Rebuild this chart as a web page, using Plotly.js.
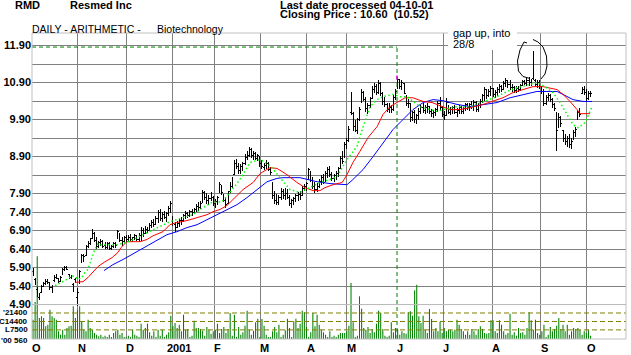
<!DOCTYPE html>
<html><head><meta charset="utf-8">
<script src="https://cdn.plot.ly/plotly-3.0.1.min.js"></script>
<style>html,body{margin:0;padding:0;background:#fff;}#chart{width:631px;height:355px;}
#chart .ohlclayer path{shape-rendering:crispEdges;}</style>
</head><body><div id="chart"></div>
<script>
// ---- daily bars (one per weekday slot, Oct 2 2000 .. Oct 4 2001) ----
const open = [
5.80,5.58,5.30,5.10,5.22, 5.40,5.46,5.52,5.48,5.36, 5.55,5.62,5.60,5.52,5.72, 5.86,5.88,5.70,5.62,5.44,
5.58,5.10,5.50,6.05,6.10, 6.22,6.46,6.56,6.68,6.82, 6.62,6.48,6.56,6.60,6.50, 6.44,6.54,6.42,6.46,6.52,
6.70,6.80,6.62,6.60,6.70, 6.66,6.72,6.66,6.68,6.74, 6.66,6.78,6.90,6.82,6.94, 6.92,7.02,7.10,7.08,7.22,
7.38,7.22,7.34,7.28,7.36, 7.48,7.26,7.06,6.98,7.08, 7.18,7.16,7.28,7.34,7.32, 7.42,7.38,7.46,7.56,7.52,
7.66,7.92,7.80,7.70,7.76, 7.80,7.62,7.68,7.94,8.10, 7.88,7.70,7.64,7.96,8.10, 8.42,8.72,8.60,8.50,8.62,
8.70,8.88,8.94,9.08,8.94, 8.98,8.86,8.90,8.70,8.60, 8.66,8.72,8.56,8.16,7.84, 7.70,7.66,7.80,7.96,7.84,
7.90,7.80,7.62,7.70,7.74, 7.84,7.88,7.84,8.04,8.10, 8.30,8.50,8.26,8.10,8.00, 8.10,8.22,8.34,8.22,8.44,
8.54,8.42,8.30,8.38,8.44, 8.58,8.84,8.90,9.20,9.36, 10.10,10.06,9.72,9.60,9.90, 10.40,10.60,10.44,10.20,10.28,
10.48,10.72,10.80,10.62,10.86, 10.58,10.40,10.30,10.18,10.22, 10.16,10.50,10.76,10.96,10.78, 10.88,10.60,10.34,10.34,9.96,
10.08,9.90,10.00,10.12,10.24, 10.14,10.22,10.26,10.12,10.04, 10.10,10.16,10.34,10.22,10.04, 10.00,10.36,10.10,10.16,10.22,
10.10,10.14,10.24,10.12,10.20, 10.30,10.22,10.30,10.26,10.36, 10.18,10.28,10.40,10.54,10.70, 10.56,10.66,10.74,10.58,10.62,
10.72,10.80,10.72,10.88,10.94, 10.84,10.76,10.78,10.68,10.74, 10.70,10.82,10.90,10.88,10.96, 10.90,11.00,10.96,10.86,10.88,
10.76,10.66,10.34,10.50,10.54, 10.44,10.30,10.06,9.70,9.90, 9.60,9.40,9.30,9.40,9.24, 9.36,9.56,9.92,10.10,10.60,
10.70,10.62,10.46,10.56
];
const high = [
5.88,5.62,5.38,5.22,5.42, 5.52,5.58,5.60,5.50,5.42, 5.70,5.72,5.62,5.66,5.90, 5.95,5.94,5.74,5.70,5.48,
5.62,5.36,5.84,6.26,6.26, 6.52,6.62,6.70,6.95,6.86, 6.72,6.62,6.66,6.64,6.58, 6.60,6.58,6.52,6.58,6.60,
6.92,6.84,6.72,6.76,6.78, 6.78,6.80,6.74,6.80,6.78, 6.84,7.00,6.96,7.02,7.00, 7.10,7.18,7.22,7.30,7.46,
7.48,7.40,7.42,7.40,7.56, 7.70,7.30,7.14,7.16,7.24, 7.26,7.36,7.42,7.40,7.46, 7.48,7.52,7.62,7.66,7.70,
8.00,7.98,7.92,7.86,7.94, 7.84,7.76,7.84,8.20,8.14, 7.90,7.78,7.96,8.20,8.36, 8.82,8.84,8.74,8.70,8.76,
8.96,9.04,9.16,9.12,9.06, 9.02,8.98,8.92,8.80,8.72, 8.80,8.76,8.62,8.20,7.96, 7.90,7.86,8.06,8.02,8.04,
8.02,7.86,7.76,7.82,7.90, 7.94,7.96,8.10,8.16,8.22, 8.60,8.52,8.34,8.20,8.18, 8.30,8.40,8.42,8.50,8.62,
8.64,8.48,8.44,8.50,8.62, 8.92,9.04,9.30,9.40,9.72, 10.64,10.10,9.90,9.94,10.24, 10.72,10.66,10.50,10.36,10.52,
10.80,10.90,10.86,10.96,10.92, 10.64,10.50,10.36,10.34,10.30, 10.56,10.72,11.04,11.00,10.96, 10.90,10.56,10.46,10.36,10.14,
10.16,10.06,10.20,10.30,10.34, 10.30,10.34,10.28,10.18,10.16, 10.22,10.40,10.50,10.26,10.14, 10.48,10.30,10.24,10.28,10.30,
10.20,10.30,10.28,10.24,10.36, 10.36,10.34,10.40,10.44,10.40, 10.34,10.46,10.60,10.78,10.74, 10.72,10.80,10.76,10.70,10.78,
10.86,10.84,10.94,11.02,10.98, 10.96,10.86,10.82,10.80,10.82, 10.86,10.96,10.98,11.02,11.04, 11.00,11.76,11.00,10.98,10.96,
10.80,10.72,10.56,10.62,10.60, 10.48,10.36,10.10,10.08,10.00, 9.62,9.50,9.46,9.50,9.40, 9.62,9.70,10.16,10.22,10.78,
10.80,10.74,10.66,10.68
];
const low = [
5.66,5.42,5.10,5.02,5.20, 5.38,5.44,5.46,5.30,5.22, 5.52,5.58,5.48,5.50,5.70, 5.82,5.84,5.60,5.58,5.24,
5.48,4.86,5.46,6.02,6.04, 6.20,6.42,6.50,6.66,6.60, 6.40,6.44,6.48,6.42,6.40, 6.40,6.38,6.38,6.42,6.44,
6.66,6.58,6.48,6.56,6.60, 6.60,6.62,6.58,6.64,6.62, 6.60,6.62,6.74,6.80,6.84, 6.90,6.96,7.00,7.04,7.10,
7.16,7.14,7.20,7.14,7.30, 7.38,7.02,6.86,6.96,7.00, 7.04,7.14,7.22,7.24,7.28, 7.30,7.34,7.40,7.44,7.48,
7.64,7.72,7.62,7.60,7.70, 7.56,7.52,7.60,7.92,7.86, 7.66,7.50,7.62,7.92,8.04, 8.40,8.56,8.44,8.42,8.52,
8.66,8.80,8.88,8.86,8.82, 8.80,8.78,8.62,8.56,8.54, 8.56,8.52,8.40,7.76,7.62, 7.60,7.58,7.74,7.76,7.74,
7.76,7.56,7.52,7.58,7.66, 7.70,7.72,7.84,7.96,7.98, 8.26,8.20,8.02,7.92,7.94, 8.04,8.12,8.16,8.20,8.32,
8.36,8.24,8.22,8.26,8.34, 8.56,8.70,8.86,9.10,9.30, 10.02,9.60,9.56,9.52,9.86, 10.34,10.40,10.10,10.06,10.22,
10.46,10.62,10.56,10.60,10.54, 10.30,10.24,10.10,10.08,10.08, 10.14,10.44,10.74,10.72,10.70, 10.60,10.26,10.22,9.84,9.86,
9.80,9.78,9.90,10.04,10.08, 10.04,10.08,10.04,9.96,9.94, 10.00,10.10,10.16,9.96,9.90, 10.00,10.04,10.02,10.06,10.04,
9.98,10.04,10.06,10.04,10.12, 10.16,10.14,10.18,10.12,10.10, 10.10,10.22,10.34,10.40,10.46, 10.50,10.54,10.50,10.48,10.54,
10.62,10.64,10.70,10.78,10.76, 10.70,10.64,10.62,10.62,10.64, 10.66,10.80,10.84,10.80,10.82, 10.80,10.96,10.80,10.76,10.74,
10.60,10.26,10.30,10.40,10.38, 10.20,10.12,9.04,9.66,9.70, 9.30,9.22,9.16,9.14,9.10, 9.34,9.44,9.90,9.96,10.58,
10.56,10.40,10.42,10.52
];
const close = [
5.70,5.46,5.15,5.18,5.38, 5.48,5.52,5.50,5.36,5.30, 5.66,5.66,5.52,5.62,5.86, 5.90,5.86,5.64,5.66,5.30,
5.52,5.22,5.80,6.22,6.20, 6.48,6.56,6.66,6.86,6.64, 6.46,6.58,6.60,6.48,6.44, 6.56,6.42,6.48,6.54,6.50,
6.88,6.64,6.60,6.70,6.66, 6.72,6.66,6.70,6.76,6.66, 6.80,6.92,6.80,6.96,6.90, 7.04,7.12,7.06,7.24,7.40,
7.22,7.34,7.26,7.36,7.50, 7.62,7.08,6.94,7.10,7.20, 7.12,7.30,7.36,7.30,7.42, 7.36,7.48,7.58,7.50,7.64,
7.94,7.80,7.70,7.78,7.86, 7.62,7.70,7.80,8.14,7.92, 7.72,7.60,7.92,8.12,8.30, 8.74,8.62,8.52,8.64,8.70,
8.90,8.96,9.10,8.94,8.98, 8.86,8.92,8.70,8.62,8.66, 8.74,8.58,8.46,7.84,7.70, 7.66,7.80,7.98,7.84,7.90,
7.80,7.62,7.70,7.76,7.84, 7.88,7.82,8.06,8.10,8.16, 8.54,8.26,8.10,8.00,8.12, 8.24,8.34,8.20,8.44,8.56,
8.42,8.30,8.40,8.44,8.56, 8.86,8.76,9.24,9.34,9.62, 10.56,9.72,9.64,9.86,10.18, 10.64,10.44,10.20,10.28,10.46,
10.74,10.80,10.62,10.88,10.60, 10.40,10.30,10.16,10.22,10.14, 10.50,10.66,10.98,10.80,10.90, 10.66,10.34,10.40,9.96,10.08,
9.90,10.00,10.12,10.24,10.14, 10.22,10.26,10.12,10.06,10.10, 10.16,10.34,10.22,10.04,9.98, 10.40,10.10,10.18,10.22,10.10,
10.14,10.24,10.12,10.20,10.30, 10.22,10.30,10.26,10.36,10.18, 10.28,10.40,10.56,10.70,10.56, 10.66,10.74,10.58,10.64,10.72,
10.80,10.70,10.88,10.96,10.84, 10.74,10.80,10.68,10.74,10.70, 10.82,10.92,10.88,10.96,10.90, 10.86,11.40,10.86,10.90,10.80,
10.66,10.34,10.50,10.56,10.44, 10.30,10.20,9.60,9.96,9.80, 9.40,9.30,9.38,9.22,9.30, 9.56,9.62,10.10,10.04,10.72,
10.62,10.46,10.60,10.60
];
const volume = [
15900,30500,68100,17300,18700,17300,10500,11800,24100,18700,
17300,15900,6300,3500,7700,3500,9100,10500,10900,26900,
17300,24100,26900,14600,7700,6300,15900,9100,7700,4900,
3500,2200,3500,1600,2700,1600,3500,1600,4900,6300,
7700,3500,4900,1600,1600,2700,1600,7700,3500,2700,
1600,12600,7700,9100,12600,5500,2700,6300,1600,7700,
2700,7700,1600,3500,5500,19200,10500,13200,9100,11800,
6300,20000,7700,8200,
1600,2700,15100,9100,9100,8200,6800,2700,9900,7700,
4400,6300,7700,12600,4900,8200,9900,4900,8200,21400,
2700,20000,1600,9900,3500,5500,10900,23300,7700,3500,
6800,13700,16700,1600,16500,10900,3500,1600,1600,6300,
9900,5500,11800,1600,3500,7200,16700,9100,1600,14600,
16700,9100,12600,23300,22000,9900,1600,5500,21400,10500,
20000,11800,7700,5500,3500,1600,6300,1600,2700,1600,
3500,
4900,4900,4900,6300,10900,46100,13700,1600,2700,35100,
24900,9100,7700,9900,4900,8200,5500,12600,23300,21400,
8200,2700,1600,2700,13700,5500,9100,8200,3500,6300,
4900,4400,22000,22800,19200,40100,44700,18700,13200,19200,
7700,4900,24700,16500,6300,9100,6300,14200,4900,9100,
6300,7700,7700,6300,7700,15900,11800,8200,6300,3500,
6300,3500,8200,6300,3500,8200,10500,8200,4900,4400,
4900,15400,15400,6300,4900,15400,11800,6300,3500,4900,
20800,3500,5500,2700,9100,4900,5500,3500,9100,22000,
15400,7700,15900,4900,3500,6300,11800,1600,3500,9900,
6300,8200,10900,17300,8200,11800,6300,11800,3500,6300,
9100,8200,9100,7700,3500,6300,4900,7700,2700
];
// ---- moving averages (slot, price) ----
const redMaX = [19.8,23.6,25.9,28.3,30.7,34.0,37.3,40.1,41.5,44.3,50.5,53.8,56.6,61.3,64.6,67.9,72.6,77.4,82.1,84.9,88.2,91.5,94.3,99.1,103.8,107.1,111.8,115.1,119.8,124.5,128.3,132.1,135.4,137.7,141.5,145.8,148.1,150.9,154.2,158.0,162.3,165.1,168.4,172.2,175.5,179.2,184.0,188.2,192.0,196.7,201.4,206.1,212.3,217.0,221.7,226.4,231.1,235.8,240.6,243.9,247.2,250.0,253.3,256.6,258.0,262.7];
const redMaY = [5.50,5.52,5.63,5.77,5.93,6.06,6.17,6.31,6.44,6.60,6.60,6.66,6.76,6.87,7.06,7.12,7.17,7.25,7.33,7.41,7.47,7.58,7.74,8.01,8.20,8.44,8.60,8.58,8.41,8.20,8.06,7.98,7.98,8.06,8.14,8.20,8.41,8.74,9.04,9.41,9.71,10.04,10.25,10.39,10.49,10.49,10.39,10.36,10.28,10.17,10.17,10.22,10.31,10.39,10.49,10.63,10.71,10.79,10.79,10.76,10.71,10.58,10.39,10.17,10.06,10.06];
const blueMaX = [33.5,37.7,42.5,49.1,53.8,58.5,63.2,67.9,72.6,77.4,82.1,86.8,91.5,96.2,100.9,105.7,110.4,115.1,117.9,125.9,134.0,140.1,148.1,150.9,155.7,160.4,165.1,169.8,174.5,179.2,184.0,188.7,193.4,200.0,206.1,212.3,218.9,225.0,231.1,237.7,243.9,247.2,250.0,254.7,259.4,263.7];
const blueMaY = [5.82,5.98,6.12,6.33,6.47,6.64,6.79,6.87,6.98,7.06,7.20,7.33,7.47,7.60,7.79,8.01,8.22,8.31,8.33,8.33,8.22,8.17,8.14,8.28,8.55,8.90,9.28,9.63,9.90,10.17,10.36,10.44,10.41,10.31,10.25,10.31,10.36,10.49,10.58,10.66,10.66,10.66,10.58,10.44,10.39,10.39];
const greenMaX = [10.4,13.7,16.0,18.4,19.8,21.2,23.1,24.5,25.9,27.8,29.2,30.7,31.6,34.9,39.6,44.3,47.2,51.9,56.6,61.3,64.6,67.9,70.8,75.5,80.2,84.4,89.2,92.9,97.6,102.4,107.1,111.8,116.5,121.2,125.9,130.7,135.4,140.1,143.4,148.1,152.8,155.7,159.0,162.3,165.1,169.8,173.1,176.4,179.2,182.5,187.3,190.6,193.4,200.0,206.1,212.3,218.9,223.6,228.3,234.4,237.7,241.5,245.3,248.6,251.9,254.7,257.1,260.4,263.7];
const greenMaY = [5.41,5.50,5.58,5.68,5.66,5.58,5.63,5.77,5.85,6.17,6.39,6.55,6.52,6.52,6.52,6.58,6.66,6.79,6.93,7.06,7.14,7.20,7.25,7.33,7.52,7.66,7.68,7.93,8.28,8.74,8.82,8.66,8.33,8.01,7.93,8.06,8.20,8.28,8.36,8.82,9.17,9.71,10.25,10.44,10.52,10.58,10.52,10.52,10.39,10.25,10.17,10.12,10.17,10.25,10.25,10.39,10.52,10.66,10.76,10.85,10.90,10.79,10.63,10.36,10.04,9.76,9.68,9.82,10.25];
// ---- axes / labels ----
const priceTicks = [4.9,5.4,5.9,6.4,6.9,7.4,7.9,8.4,8.9,9.4,9.9,10.4,10.9,11.4,11.9];
const priceTickText = ['4.90','5.40','5.90','6.40','6.90','7.40','7.90','','8.90','','9.90','','10.90','','11.90'];
const monthPos = [-0.47,21.2,43.9,66.0,85.4,107.1,129.2,148.1,171.7,193.4,216.5,239.6,261.3];
const monthText = ['O','N','D','2001','F','M','A','M','J','J','A','S','O'];
const volLevels = [21400,14400,7500,0];
const volLabels = ["'21400","C14400","L7500","'00 560"];
const highMark = 11.86;
const highMarkDay = 171.7;

const day = open.map((_, i) => i);
const FONT = 'Liberation Sans, Arial, sans-serif';
const L = 32, R = 626, T = 33, B = 339;
const PX = (px) => (px - L) / (R - L);
const PY = (py) => (B - py) / (B - T);
const priceRange = [3.97, 12.24];
const dayRange = [-0.47, 279.7];

const traces = [
  {type:'bar', x:day, y:volume, xaxis:'x', yaxis:'y', width:0.5,
   marker:{color:'#008000', line:{width:0}}, hoverinfo:'skip', showlegend:false},
  {type:'ohlc', x:day, open:open, high:high, low:low, close:close, xaxis:'x', yaxis:'y2',
   tickwidth:0.5, increasing:{line:{color:'#000', width:1}}, decreasing:{line:{color:'#000', width:1}},
   showlegend:false},
  {type:'scatter', mode:'lines', x:blueMaX, y:blueMaY, yaxis:'y2', line:{color:'#0000ff', width:1}, hoverinfo:'skip', showlegend:false},
  {type:'scatter', mode:'lines', x:redMaX, y:redMaY, yaxis:'y2', line:{color:'#ff0000', width:1}, hoverinfo:'skip', showlegend:false},
  {type:'scatter', mode:'lines', x:greenMaX, y:greenMaY, yaxis:'y2', line:{color:'#00ff00', width:1.5, dash:'1.5px,2.5px'}, hoverinfo:'skip', showlegend:false}
];

const ann = [];
function txt(text, px, py, size, bold) {
  ann.push({xref:'paper', yref:'paper', x:PX(px - 2), y:PY(py), xanchor:'left', yanchor:'middle',
    text:text, showarrow:false, font:{family:FONT, size:size, color:'#000', weight: bold ? 'bold' : 'normal'}});
}
txt('RMD', 15, 4.5, 11, true);
txt('Resmed Inc', 70, 4.5, 11, true);
txt('Last date processed 04-10-01', 280, 4.5, 11, true);
txt('Closing Price : 10.60\u00a0\u00a0(10.52)', 280, 14.5, 11, true);
txt('DAILY - ARITHMETIC -', 32, 29, 10.5, false);
txt('Biotechnology', 157, 29, 10.5, false);
txt('gap up, into', 453, 33, 11, false);
txt('28/8', 453, 44.5, 11, false);

monthPos.forEach((p, i) => {
  ann.push({xref:'x', yref:'paper', x:p, y:0, xanchor:'left', yanchor:'top', yshift:-1,
    xshift: monthText[i] === '2001' ? -8 : -2,
    text:monthText[i], showarrow:false, font:{family:FONT, size:11, color:'#000', weight:'bold'}});
});
volLevels.forEach((v, i) => {
  ann.push({xref:'paper', yref:'y', x:0, y:v, xanchor:'right', yanchor:'middle', xshift:-2, yshift: v === 0 ? -1 : 0,
    text:volLabels[i], showarrow:false, font:{family:FONT, size:8, color:'#000', weight:'bold'}});
});

const shapes = [];
// olive volume reference lines
volLevels.filter(v => v > 0).forEach(v => shapes.push({type:'line', xref:'x', yref:'y', x0:dayRange[0], x1:dayRange[1], y0:v, y1:v,
  line:{color:'#808000', width:1, dash:'5px,3px'}, layer:'above'}));
// light separator at 4.90
shapes.push({type:'line', xref:'x', yref:'y2', x0:dayRange[0], x1:dayRange[1], y0:4.9, y1:4.9, line:{color:'#c0c0c0', width:1}, layer:'above'});
// green high marker
shapes.push({type:'line', xref:'x', yref:'y2', x0:dayRange[0], x1:highMarkDay, y0:highMark, y1:highMark,
  line:{color:'#008000', width:1, dash:'4px,3px'}, layer:'above'});
shapes.push({type:'line', xref:'x', yref:'y2', x0:highMarkDay, x1:highMarkDay, y0:priceRange[0], y1:highMark,
  line:{color:'#008000', width:1, dash:'4px,3px'}, layer:'above'});
shapes.push({type:'line', xref:'x', yref:'y2', x0:highMarkDay, x1:highMarkDay, y0:10.98, y1:11.09,
  line:{color:'#ff00ff', width:1.5}, layer:'above'});
// frame
shapes.push({type:'rect', xref:'paper', yref:'paper', x0:0, x1:1, y0:0, y1:1, line:{color:'#c0c0c0', width:1}, layer:'above'});
// white box behind the note
shapes.push({type:'rect', xref:'paper', yref:'paper', x0:PX(448), x1:PX(517), y0:PY(50), y1:PY(27),
  fillcolor:'#ffffff', line:{width:0}, layer:'above'});
// hand-drawn loop
const loopPts = [[527,43],[524,42],[520,50],[517.5,61],[518.5,71],[523,76.5],[530,78.5]];
const loopPts2 = [[533,39.5],[538,42],[543,47],[546.5,56],[547,66],[545,74],[541,79]];
const toPath = (pts) => pts.map((p, i) => (i ? 'L' : 'M') + PX(p[0]).toFixed(5) + ',' + PY(p[1]).toFixed(5)).join(' ');
shapes.push({type:'path', xref:'paper', yref:'paper', path:toPath(loopPts), line:{color:'#000', width:1}, layer:'above'});
shapes.push({type:'path', xref:'paper', yref:'paper', path:toPath(loopPts2), line:{color:'#000', width:1}, layer:'above'});

const layout = {
  width:631, height:355, margin:{l:L, r:631 - R, t:T, b:355 - B, pad:0},
  paper_bgcolor:'#fff', plot_bgcolor:'#fff', showlegend:false, hovermode:false,
  xaxis:{range:dayRange, tickmode:'array', tickvals:monthPos.filter(p => p > 0 && p !== highMarkDay),
    showticklabels:false, ticks:'', showgrid:true, gridcolor:'#808080', gridwidth:1, zeroline:false, showline:false,
    rangeslider:{visible:false}, fixedrange:true},
  yaxis:{range:[0, 251800], showgrid:false, showticklabels:false, zeroline:false, showline:false, ticks:'', fixedrange:true},
  yaxis2:{range:priceRange, overlaying:'y', side:'left', tickmode:'array', tickvals:priceTicks, ticktext:priceTickText,
    showgrid:true, gridcolor:'#808080', gridwidth:1, zeroline:false, showline:false, ticks:'',
    tickfont:{family:FONT, size:11, color:'#000', weight:'bold'}, fixedrange:true},
  annotations:ann, shapes:shapes
};
Plotly.newPlot('chart', traces, layout, {staticPlot:true, displayModeBar:false});
</script></body></html>
